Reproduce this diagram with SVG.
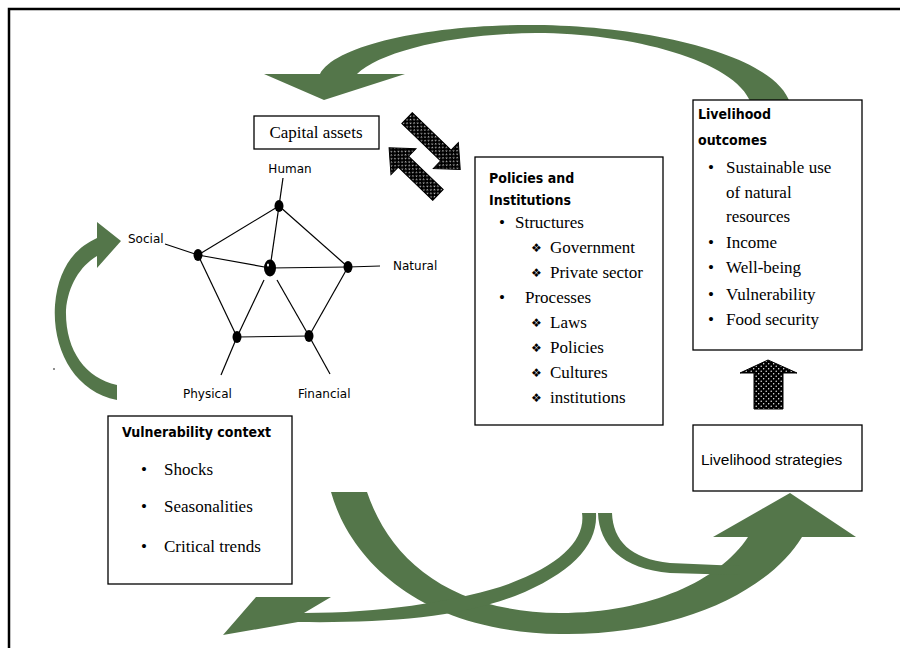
<svg xmlns="http://www.w3.org/2000/svg" width="900" height="648" viewBox="0 0 900 648">
<defs>
<pattern id="dots" width="5" height="5" patternUnits="userSpaceOnUse">
<rect width="5" height="5" fill="#000"/>
<circle cx="1.2" cy="1.2" r="0.7" fill="#fff"/>
<circle cx="3.7" cy="3.7" r="0.7" fill="#fff"/>
</pattern>
<style>
.box{fill:#fff;stroke:#000;stroke-width:1.3}
.serif{font-family:"Liberation Serif","Times New Roman",serif;font-size:17px;fill:#000}
.title{font-family:"DejaVu Sans Condensed","Liberation Sans Narrow","Liberation Sans",sans-serif;font-weight:bold;font-size:14px;fill:#000}
.lab{font-family:"DejaVu Sans","Liberation Sans",sans-serif;font-size:12px;fill:#000}
.sans{font-family:"Liberation Sans",Arial,sans-serif;font-size:15.5px;fill:#000}
.orn{font-family:"DejaVu Sans",sans-serif;font-size:12px;fill:#000}
.green{fill:#54764a}
.hatch{fill:url(#dots);stroke:#000;stroke-width:1}
.edge{stroke:#000;stroke-width:1.2;fill:none}
</style>
</defs>
<rect width="900" height="648" fill="#fff"/>
<path d="M9,648 L9,9 L900,9" fill="none" stroke="#000" stroke-width="2.5"/>
<circle cx="54" cy="369" r="0.8" fill="#000"/>

<g id="connectors">
<path class="green" d="M790,103 C 775,55 650,26 536,25 C 430,24 335,45 320,74 L264,74 L324,100 L405,74 L357,74 C 380,52 450,34 536,33 C 630,33 735,60 751,103 Z"/>
<path class="green" d="M117,400 C 75,392 52,350 55,305 C 58,268 75,248 97,238 L97,222 L121,241 L97,268 L97,256 C 80,266 68,286 66,310 C 65,350 85,378 117,385 Z"/>
<path class="green" d="M331,492 C 350,560 420,632 560,634 C 680,636 770,590 802,537 L856,537 L790,493 L713,537 L748,537 C 720,580 650,613 560,613 C 450,612 390,560 367,492 Z"/>
<path class="green" d="M223,635 L256,597 L331,597 L304,613 C 380,613 450,602 500,587 C 560,567 586,540 582,513 L596,513 C 598,545 572,573 515,596 C 455,619 380,623 298,622 Z"/>
<path class="green" d="M612,513 C 613,540 630,559 670,563 L740,566 L740,575 L670,573 C 622,569 599,545 598,513 Z"/>
<polygon class="hatch" transform="translate(407,118) rotate(44)" points="0,-7.5 54,-7.5 54,-18 74,0 54,18 54,7.5 0,7.5"/>
<polygon class="hatch" transform="translate(438,195) rotate(224)" points="0,-7.5 48,-7.5 48,-18 68,0 48,18 48,7.5 0,7.5"/>
<polygon class="hatch" points="754,409 754,373 740,373 768,360 797,373 783,373 783,409"/>
</g>

<g id="capital-assets">
<rect class="box" x="254" y="116" width="125" height="33"/>
<text class="serif" x="316" y="138" text-anchor="middle" font-size="18">Capital assets</text>
</g>

<g id="asset-pentagon">
<g id="pentagon-lines">
<line class="edge" x1="279" y1="206" x2="198" y2="255"/>
<line class="edge" x1="279" y1="206" x2="348" y2="267"/>
<line class="edge" x1="198" y1="255" x2="237" y2="337"/>
<line class="edge" x1="237" y1="337" x2="309" y2="336"/>
<line class="edge" x1="309" y1="336" x2="348" y2="267"/>
<line class="edge" x1="270" y1="268" x2="279" y2="206"/>
<line class="edge" x1="270" y1="268" x2="198" y2="255"/>
<line class="edge" x1="270" y1="268" x2="348" y2="267"/>
<line class="edge" x1="264" y1="280" x2="237" y2="337"/>
<line class="edge" x1="277" y1="280" x2="309" y2="336"/>
<line class="edge" x1="283" y1="178" x2="279" y2="206"/>
<line class="edge" x1="165" y1="244" x2="198" y2="255"/>
<line class="edge" x1="348" y1="267" x2="380" y2="266"/>
<line class="edge" x1="237" y1="337" x2="221" y2="375"/>
<line class="edge" x1="309" y1="336" x2="330" y2="374"/>
</g>
<g id="node-center"><ellipse cx="270" cy="268" rx="6" ry="8.5" fill="#000"/><ellipse cx="268" cy="265" rx="1" ry="1.5" fill="#fff"/></g>
<g id="node-human"><ellipse cx="279" cy="206" rx="4.5" ry="6" fill="#000"/><text class="lab" x="290" y="173" text-anchor="middle">Human</text></g>
<g id="node-social"><ellipse cx="198" cy="255" rx="4.5" ry="6" fill="#000"/><text class="lab" x="128" y="243">Social</text></g>
<g id="node-natural"><ellipse cx="348" cy="267" rx="4.5" ry="6" fill="#000"/><text class="lab" x="393" y="270">Natural</text></g>
<g id="node-physical"><ellipse cx="237" cy="337" rx="4.5" ry="6" fill="#000"/><text class="lab" x="183" y="398">Physical</text></g>
<g id="node-financial"><ellipse cx="309" cy="336" rx="4.5" ry="6" fill="#000"/><text class="lab" x="298" y="398">Financial</text></g>
</g>

<g id="policies-institutions">
<rect class="box" x="475" y="157" width="188" height="268"/>
<text class="title" x="489" y="183">Policies and</text>
<text class="title" x="489" y="205">Institutions</text>
<text class="serif" x="499" y="228">•</text><text class="serif" x="515" y="228">Structures</text>
<text class="orn" x="531" y="252">❖</text><text class="serif" x="550" y="253">Government</text>
<text class="orn" x="531" y="277">❖</text><text class="serif" x="550" y="278">Private sector</text>
<text class="serif" x="499" y="303">•</text><text class="serif" x="525" y="303">Processes</text>
<text class="orn" x="531" y="327">❖</text><text class="serif" x="550" y="328">Laws</text>
<text class="orn" x="531" y="352">❖</text><text class="serif" x="550" y="353">Policies</text>
<text class="orn" x="531" y="377">❖</text><text class="serif" x="550" y="378">Cultures</text>
<text class="orn" x="531" y="402">❖</text><text class="serif" x="550" y="403">institutions</text>
</g>

<g id="livelihood-outcomes">
<rect class="box" x="693" y="100" width="169" height="250"/>
<text class="title" x="698" y="119">Livelihood</text>
<text class="title" x="698" y="145">outcomes</text>
<text class="serif" x="708" y="173">•</text><text class="serif" x="726" y="173">Sustainable use</text>
<text class="serif" x="726" y="198">of natural</text>
<text class="serif" x="726" y="222">resources</text>
<text class="serif" x="708" y="248">•</text><text class="serif" x="726" y="248">Income</text>
<text class="serif" x="708" y="273">•</text><text class="serif" x="726" y="273">Well-being</text>
<text class="serif" x="708" y="300">•</text><text class="serif" x="726" y="300">Vulnerability</text>
<text class="serif" x="708" y="325">•</text><text class="serif" x="726" y="325">Food security</text>
</g>

<g id="livelihood-strategies">
<rect class="box" x="693" y="425" width="169" height="66"/>
<text class="sans" x="701" y="465">Livelihood strategies</text>
</g>

<g id="vulnerability-context">
<rect class="box" x="108" y="416" width="184" height="168"/>
<text class="title" x="122" y="437">Vulnerability context</text>
<text class="serif" x="141" y="475">•</text><text class="serif" x="164" y="475">Shocks</text>
<text class="serif" x="141" y="512">•</text><text class="serif" x="164" y="512">Seasonalities</text>
<text class="serif" x="141" y="552">•</text><text class="serif" x="164" y="552">Critical trends</text>
</g>
</svg>
